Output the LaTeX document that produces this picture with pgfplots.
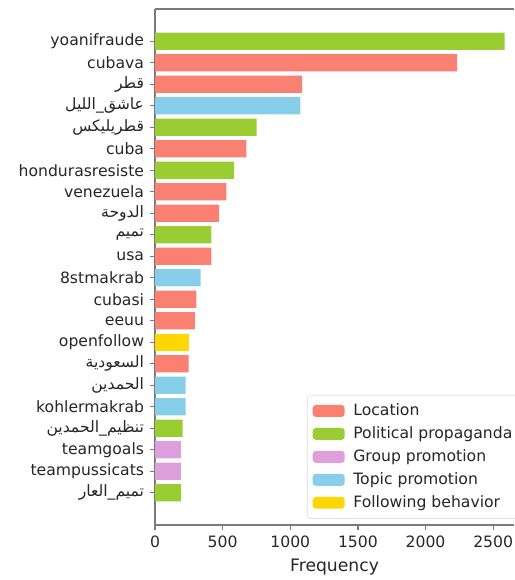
\documentclass[border=0pt]{standalone}
\usepackage{pgfplots}
\pgfplotsset{compat=1.18}
\usepackage{fontspec}
\setmainfont{DejaVu Sans}
\newfontfamily\arabicfont[Script=Arabic]{DejaVu Sans}
\TeXXeTstate=1
\definecolor{cLoc}{HTML}{FA8072}
\definecolor{cPol}{HTML}{9ACD32}
\definecolor{cGrp}{HTML}{DDA0DD}
\definecolor{cTop}{HTML}{87CEEB}
\definecolor{cFol}{HTML}{FFD700}
\definecolor{spine}{HTML}{7A7A7A}
\definecolor{txt}{HTML}{262626}
\newcommand{\ar}[1]{{\arabicfont\beginR #1\endR}}
\begin{document}
\begin{tikzpicture}
\begin{axis}[
  scale only axis,
  width=229.8pt, height=330.2pt,
  xmin=0, xmax=2655,
  ymin=-1.5, ymax=22.5,
  y dir=reverse,
  separate axis lines,
  axis x line*=box,
  axis y line*=left,
  axis line style={spine, line width=0.8pt},
  xtick pos=bottom, ytick pos=left,
  tick align=outside,
  major tick length=3.5pt,
  tick style={spine, line width=0.8pt},
  xtick={0,500,1000,1500,2000,2500},
  ytick={0,1,...,21},
  yticklabels={yoanifraude,cubava,\ar{قطر},\ar{عاشق\_الليل},\ar{قطريليكس},cuba,hondurasresiste,venezuela,\ar{الدوحة},\ar{تميم},usa,8stmakrab,cubasi,eeuu,openfollow,\ar{السعودية},\ar{الحمدين},kohlermakrab,\ar{تنظيم\_الحمدين},teamgoals,teampussicats,\ar{تميم\_العار}},
  tick label style={font=\fontsize{10}{12}\selectfont, text=txt},
  /pgf/number format/assume math mode=true,
  scaled x ticks=false,
  xticklabel style={/pgf/number format/1000 sep={}},
  xlabel={Frequency},
  xlabel style={font=\fontsize{11}{13}\selectfont, text=txt},
  xbar, bar width=0.8, bar shift=0pt,
  every axis plot/.append style={draw=none},
  legend cell align=left,
  legend style={at={(0.423,0.012)}, anchor=south west, draw=black!12, rounded corners=2pt,
    font=\fontsize{10}{12}\selectfont, text=txt, row sep=1.6pt, inner sep=3.5pt},
  legend image code/.code={\fill[#1] (0pt,-3.8pt) rectangle (20.5pt,3.8pt); \path (24pt,0pt);},
]
\addplot[fill=cLoc] coordinates {(2234,1) (1088,2) (676,5) (528,7) (474,8) (417,10) (306,12) (294,13) (249,15)};
\addlegendentry{Location}
\addplot[fill=cPol] coordinates {(2584,0) (752,4) (585,6) (417,9) (205,18) (192,21)};
\addlegendentry{Political propaganda}
\addplot[fill=cGrp] coordinates {(192,19) (192,20)};
\addlegendentry{Group promotion}
\addplot[fill=cTop] coordinates {(1075,3) (338,11) (227,16) (227,17)};
\addlegendentry{Topic promotion}
\addplot[fill=cFol] coordinates {(249,14)};
\addlegendentry{Following behavior}
\end{axis}
\pgfresetboundingbox
\path[use as bounding box] ([xshift=-99.2pt,yshift=-35.2pt]current axis.south west) rectangle ([yshift=5.76pt]current axis.north east);
\end{tikzpicture}
\end{document}
